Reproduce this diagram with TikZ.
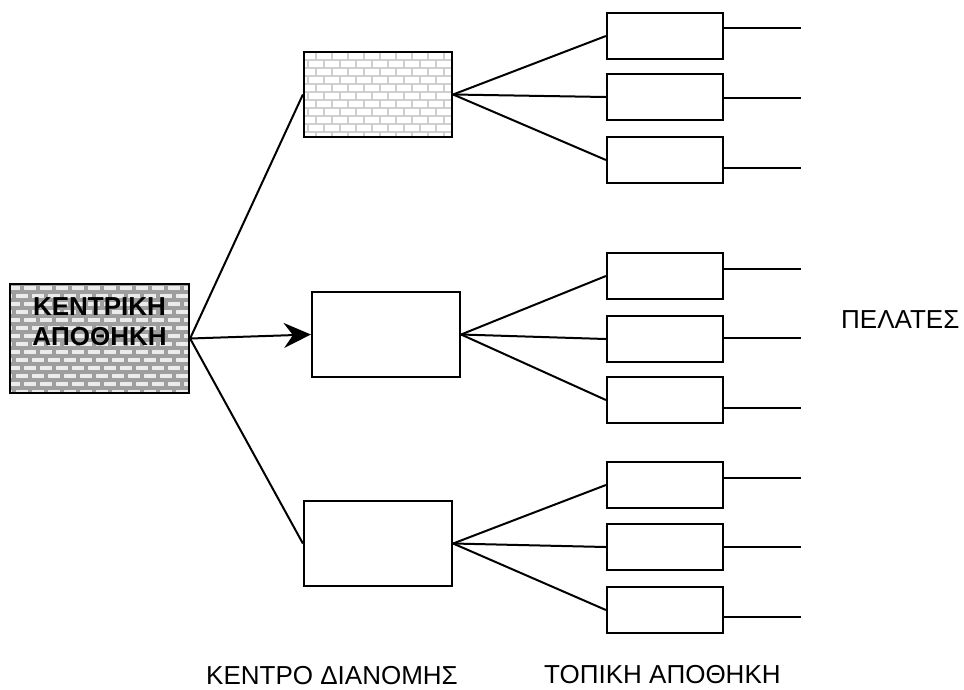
\documentclass[tikz,border=0pt]{standalone}
\usepackage{fontspec}
\setmainfont{Liberation Sans}
\usetikzlibrary{arrows.meta}

% Brick texture clipped to a rectangle: x1, y1, x2, y2, mortar colour, brick colour, mortar width
\newcommand\brickwall[7]{%
  \begin{scope}
    \clip (#1,#2) rectangle (#3,#4);
    \fill[#6] (#1,#2) rectangle (#3,#4);
    \pgfmathtruncatemacro\nrows{(#4-#2)/8+1}
    \pgfmathtruncatemacro\ncols{(#3-#1)/16+2}
    \foreach \r in {0,...,\nrows}{
      \pgfmathsetmacro\yy{#2+\r*8}
      \draw[#5,line width=#7] (#1,\yy) -- (#3,\yy);
      \foreach \c in {0,...,\ncols}{
        \pgfmathsetmacro\xx{#1+\c*16+mod(\r,2)*8-4}
        \draw[#5,line width=#7] (\xx,\yy) -- (\xx,\yy+8);
      }
    }
  \end{scope}}

\tikzset{
  box/.style={draw=black,line width=2.2pt,minimum width=#1,inner sep=0pt},
  storebox/.style={box=116pt,minimum height=46pt},
  centrebox/.style={box=148pt,minimum height=85pt},
  link/.style={draw=black,line width=2pt},
  label/.style={inner sep=0pt,anchor=base west,font=\fontsize{26}{31}\selectfont}
}

\begin{document}
\begin{tikzpicture}[x=1pt,y=-1pt]
  \useasboundingbox (0,0) rectangle (964,689);

  % brick textures
  \brickwall{10}{284}{189}{393}{gray!76}{gray!16}{3.2pt}
  \brickwall{304}{52}{452}{137}{gray!38}{white}{2.2pt}

  % central warehouse
  \node[box=179pt,minimum height=109pt] (main) at (99.5,338.5) {};
  \node[inner sep=0pt,align=center,font=\bfseries\fontsize{26}{30}\selectfont]
    (mainlabel) at (99.5,321.5) {ΚΕΝΤΡΙΚΗ\\ΑΠΟΘΗΚΗ};

  % distribution centres
  \node[centrebox] (d1) at (378,94.5) {};
  \node[centrebox] (d2) at (386,334.5) {};
  \node[centrebox] (d3) at (378,543.5) {};

  % local warehouses
  \foreach \n/\y in {a1/36,a2/97,a3/160,b1/276,b2/339,b3/400,c1/485,c2/547,c3/610}
    \node[storebox] (\n) at (665,\y) {};

  % customer line ends
  \foreach \n/\y in {a1/28,a2/98,a3/168,b1/269,b2/338,b3/408,c1/478,c2/547,c3/617}
    \coordinate (e\n) at (801,\y);

  % central warehouse to distribution centres
  \draw[link] (main.east) -- (d1.west);
  \draw[link,-{Stealth[length=27pt,width=25pt,inset=9pt]}] (main.east) -- (d2.west);
  \draw[link] (main.east) -- (d3.west);

  % distribution centres to local warehouses
  \foreach \n in {1,2,3}{
    \draw[link] (d1.east) -- (a\n.west);
    \draw[link] (d2.east) -- (b\n.west);
    \draw[link] (d3.east) -- (c\n.west);
  }

  % local warehouses to customers
  \foreach \n in {a1,a2,a3,b1,b2,b3,c1,c2,c3}
    \draw[link] (\n.east |- e\n) -- (e\n);

  % captions
  \node[label] (customers) at (841,328) {ΠΕΛΑΤΕΣ};
  \node[label] (centres) at (206,684.5) {ΚΕΝΤΡΟ ΔΙΑΝΟΜΗΣ};
  \node[label] (stores) at (544,683.5) {ΤΟΠΙΚΗ ΑΠΟΘΗΚΗ};
\end{tikzpicture}
\end{document}
